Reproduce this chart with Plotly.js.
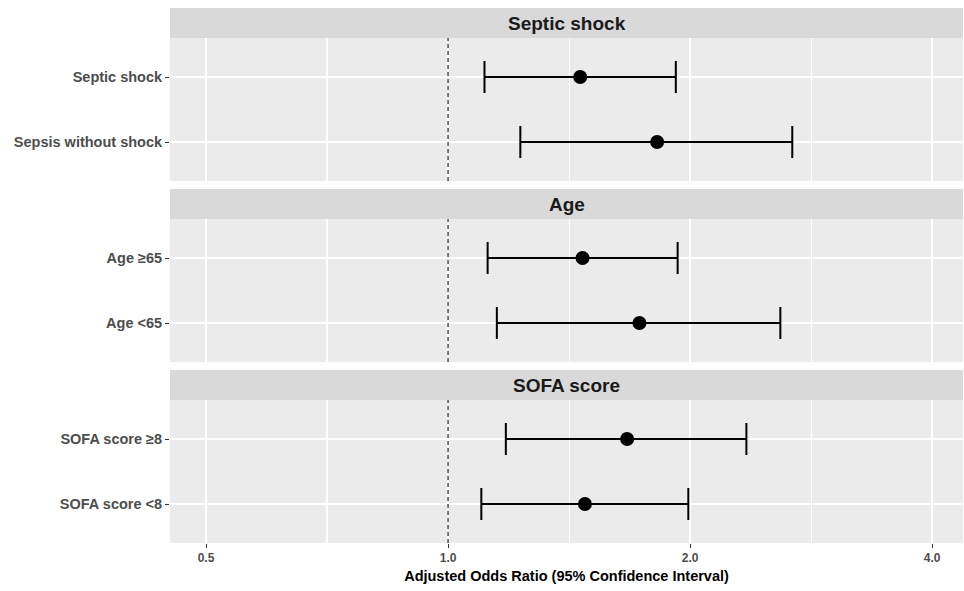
<!DOCTYPE html>
<html>
<head>
<meta charset="utf-8">
<script src="https://cdn.plot.ly/plotly-3.0.1.min.js"></script>
<style>html,body{margin:0;padding:0;background:#fff;}#chart{width:964px;height:591px;}</style>
</head>
<body>
<div id="chart"></div>
<script>
// ---- data ----
const panelTitles = ['Septic shock', 'Age', 'SOFA score'];

const labels1 = ['Septic shock', 'Sepsis without shock'];
const or1 = [1.46, 1.82];
const lo1 = [1.11, 1.23];
const hi1 = [1.92, 2.68];

const labels2 = ['Age ≥65', 'Age <65'];
const or2 = [1.47, 1.73];
const lo2 = [1.12, 1.15];
const hi2 = [1.93, 2.59];

const labels3 = ['SOFA score ≥8', 'SOFA score <8'];
const or3 = [1.67, 1.48];
const lo3 = [1.18, 1.10];
const hi3 = [2.35, 1.99];

const xTickVals = [0.5, 1, 2, 4];
const xTickText = ['0.5', '1.0', '2.0', '4.0'];
const refValue = 1;
const xTitle = 'Adjusted Odds Ratio (95% Confidence Interval)';

// ---- layout geometry ----
const W = 964, H = 591;
const mT = 8, mB = 48, mL = 170, mR = 1;
const plotH = H - mT - mB;
const stripH = 30, panelH = 143, gap = 8;
const FONT = 'Liberation Sans, Arial, sans-serif';

const panels = [
  {labels: labels1, or: or1, lo: lo1, hi: hi1},
  {labels: labels2, or: or2, lo: lo2, hi: hi2},
  {labels: labels3, or: or3, lo: lo3, hi: hi3}
];

const minorVals = [];
for (let i = 0; i < xTickVals.length - 1; i++) minorVals.push(Math.sqrt(xTickVals[i] * xTickVals[i + 1]));

const traces = [];
const layout = {
  width: W, height: H,
  margin: {l: mL, r: mR, t: mT, b: mB, pad: 0},
  paper_bgcolor: '#FFFFFF',
  plot_bgcolor: '#EBEBEB',
  showlegend: false,
  font: {family: FONT},
  shapes: [],
  annotations: []
};

const xRange = [Math.log10(0.451), Math.log10(4.37)];

panels.forEach((p, i) => {
  const n = i + 1;
  const sfx = n === 1 ? '' : String(n);
  const topPx = i * (stripH + panelH + gap);
  const stripTop = 1 - topPx / plotH;
  const stripBot = 1 - (topPx + stripH) / plotH;
  const panelBot = 1 - (topPx + stripH + panelH) / plotH;

  traces.push({
    type: 'scatter', mode: 'markers',
    x: p.or, y: p.labels,
    xaxis: 'x' + sfx, yaxis: 'y' + sfx,
    marker: {color: '#000000', size: 14},
    error_x: {
      type: 'data', symmetric: false,
      array: p.hi.map((h, k) => h - p.or[k]),
      arrayminus: p.lo.map((l, k) => p.or[k] - l),
      color: '#000000', thickness: 2, width: 16
    },
    hoverinfo: 'x+y'
  });

  const isBottom = i === panels.length - 1;
  layout['xaxis' + sfx] = {
    type: 'log', range: xRange, anchor: 'y' + sfx,
    domain: [0, 1],
    tickmode: 'array', tickvals: xTickVals, ticktext: xTickText,
    showgrid: true, gridcolor: '#FFFFFF', gridwidth: 1.3,
    minor: {tickmode: 'array', tickvals: minorVals, showgrid: true, gridcolor: '#FFFFFF', gridwidth: 1.1, ticks: ''},
    zeroline: false, showline: false,
    ticks: isBottom ? 'outside' : '', ticklen: 4, tickwidth: 1, tickcolor: '#333333',
    showticklabels: isBottom,
    tickfont: {family: FONT, size: 12, color: '#4D4D4D', weight: 'bold'},
    fixedrange: true
  };
  if (i > 0) layout['xaxis' + sfx].matches = 'x';
  if (isBottom) {
    layout['xaxis' + sfx].title = {text: xTitle, font: {family: FONT, size: 14.5, color: '#000000', weight: 'bold'}, standoff: 6};
  }
  layout['yaxis' + sfx] = {
    type: 'category', anchor: 'x' + sfx,
    domain: [panelBot, stripBot],
    categoryorder: 'array', categoryarray: p.labels,
    range: [p.labels.length - 0.4, -0.6],
    showgrid: true, gridcolor: '#FFFFFF', gridwidth: 1.3,
    zeroline: false, showline: false,
    ticks: 'outside', ticklen: 4, tickwidth: 1, tickcolor: '#333333',
    tickfont: {family: FONT, size: 14.5, color: '#4D4D4D', weight: 'bold'},
    fixedrange: true
  };

  layout.shapes.push({
    type: 'rect', xref: 'paper', yref: 'paper',
    x0: 0, x1: 1, y0: stripBot, y1: stripTop,
    fillcolor: '#D9D9D9', line: {width: 0}, layer: 'below'
  });
  layout.annotations.push({
    xref: 'paper', yref: 'paper', x: 0.5, y: (stripTop + stripBot) / 2,
    xanchor: 'center', yanchor: 'middle', showarrow: false,
    text: panelTitles[i],
    font: {family: FONT, size: 19, color: '#1A1A1A', weight: 'bold'}
  });
  layout.shapes.push({
    type: 'line', xref: 'x' + sfx, yref: 'y' + sfx + ' domain',
    x0: refValue, x1: refValue, y0: 0, y1: 1,
    line: {color: '#222222', width: 1.2, dash: '4px,3px'}, layer: 'above'
  });
});

Plotly.newPlot('chart', traces, layout, {displayModeBar: false, staticPlot: true});
</script>
</body>
</html>
